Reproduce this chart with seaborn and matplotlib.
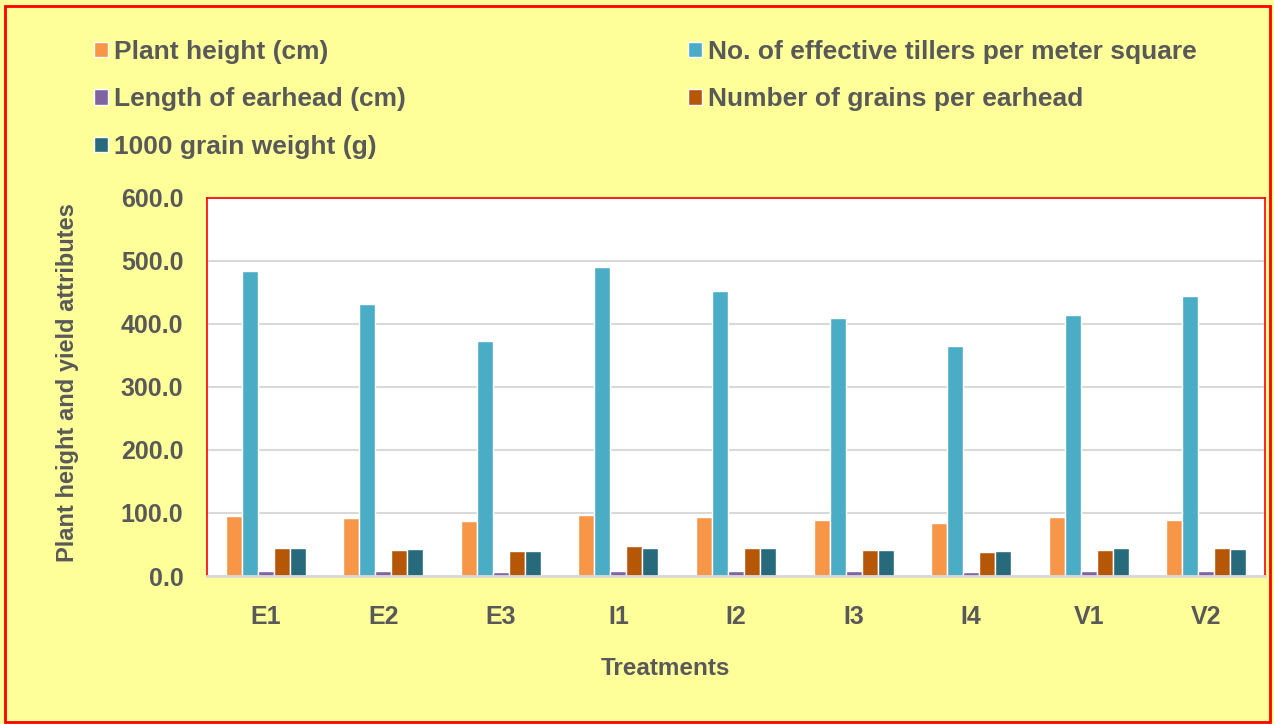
import seaborn as sns
import matplotlib.pyplot as plt
import pandas as pd
from matplotlib.patches import Rectangle, Patch

treatments = ["E1", "E2", "E3", "I1", "I2", "I3", "I4", "V1", "V2"]
plant_height = [94.7, 91.5, 87.0, 96.8, 93.6, 89.4, 84.6, 93.6, 88.3]
tillers = [484.5, 432.0, 373.0, 491.0, 452.0, 410.0, 364.5, 413.5, 445.0]
earhead_length = [8.0, 7.5, 6.5, 7.5, 7.5, 7.5, 6.5, 7.5, 7.5]
grains = [45.0, 41.7, 40.0, 47.0, 44.4, 41.2, 38.5, 41.7, 44.4]
grain_weight = [45.0, 43.3, 40.0, 45.0, 44.4, 41.7, 40.0, 44.4, 43.3]

series = ["Plant height (cm)", "No. of effective tillers per meter square",
          "Length of earhead (cm)", "Number of grains per earhead", "1000 grain weight (g)"]
colors = ["#F79646", "#4BACC6", "#8064A2", "#B65708", "#276A7C"]

rows = []
for name, vals in zip(series, [plant_height, tillers, earhead_length, grains, grain_weight]):
    for t, v in zip(treatments, vals):
        rows.append({"Treatment": t, "Attribute": name, "Value": v})
df = pd.DataFrame(rows)

sns.set_style("white")
plt.rcParams['font.family'] = ['Liberation Sans', 'DejaVu Sans']
txt = "#595959"

fig = plt.figure(figsize=(12.74, 7.24), dpi=100)
fig.patch.set_facecolor("#FFFF99")
fig.patches.append(Rectangle((0.004, 0.003), 0.993, 0.989, transform=fig.transFigure,
                             fill=False, edgecolor="red", linewidth=2))

ax = fig.add_axes([207 / 1274, 1 - 576 / 724, (1265 - 207) / 1274, (576 - 198) / 724])
sns.barplot(data=df, x="Treatment", y="Value", hue="Attribute", palette=colors,
            saturation=1, width=0.68, gap=0, ax=ax, legend=False, errorbar=None)

ax.set_ylim(0, 600)
ax.set_yticks(range(0, 601, 100))
ax.set_yticklabels([f"{v:.1f}" for v in range(0, 601, 100)])
ax.yaxis.grid(True, color="#D9D9D9", linewidth=1.5)
ax.set_axisbelow(True)
ax.set_facecolor("white")
for s in ["left", "top", "right"]:
    ax.spines[s].set_color("red")
    ax.spines[s].set_linewidth(1.2)
ax.spines["bottom"].set_color("#D9D9D9")
ax.spines["bottom"].set_linewidth(2)
ax.tick_params(axis="both", length=0, labelsize=18, labelcolor=txt)
ax.tick_params(axis="x", pad=21)
ax.tick_params(axis="y", pad=17)
for lab in ax.get_xticklabels() + ax.get_yticklabels():
    lab.set_fontweight("bold")
ax.set_xlabel("Treatments", fontsize=17.5, fontweight="bold", color=txt)
ax.xaxis.set_label_coords(0.433, -0.214)
ax.set_ylabel("Plant height and yield attributes", fontsize=17, fontweight="bold", color=txt)
ax.yaxis.set_label_coords(-0.121, 0.513)

order = [0, 2, 4, 1, 3]
handles = [Patch(facecolor=colors[i], label=series[i]) for i in order]
leg = fig.legend(handles=handles, ncol=2, loc="upper left", bbox_to_anchor=(0.055, 0.978),
                 frameon=False, handlelength=0.53, handleheight=0.53,
                 handletextpad=0.23, columnspacing=10.7, labelspacing=0.89,
                 prop={"weight": "bold", "size": 19})
for t in leg.get_texts():
    t.set_color(txt)

fig.savefig("out.png", dpi=100, facecolor=fig.get_facecolor())
